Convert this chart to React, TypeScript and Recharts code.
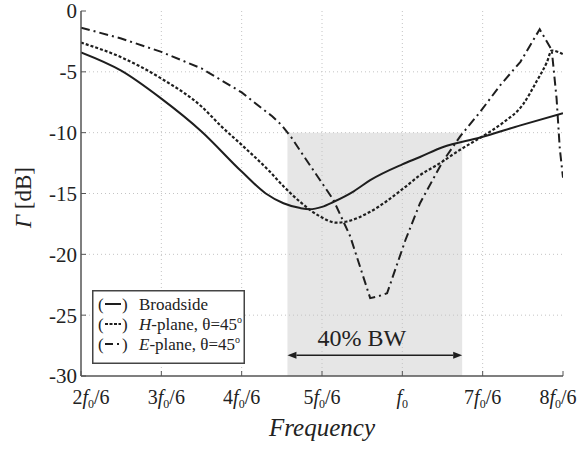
import React from 'react';
import { LineChart, Line, XAxis, YAxis, ReferenceArea, ReferenceLine, Legend } from 'recharts';

const FONT = '"Liberation Serif", "Times New Roman", Times, serif';
const INK = '#1e1e1e';
const FRAME = '#555555';

// x values in units of f0/6
const xTicks = [2, 3, 4, 5, 6, 7, 8];
const yTicks = [-30, -25, -20, -15, -10, -5, 0];
const gridX = [3, 4, 5, 6, 7];
const gridY = [-25, -20, -15, -10, -5];

const broadsideFreq = [2, 2.5, 3, 3.5, 4, 4.3, 4.52, 4.73, 4.85, 5, 5.14, 5.4, 5.6, 6, 6.22, 6.5, 6.97, 7.47, 8];
const broadsideGamma = [-3.4, -4.9, -7.2, -9.9, -13.2, -15.0, -15.8, -16.2, -16.3, -16.1, -15.7, -14.8, -13.9, -12.6, -12.0, -11.2, -10.4, -9.4, -8.4];

const hPlaneFreq = [2, 2.5, 3, 3.5, 3.75, 4.0, 4.35, 4.52, 4.73, 4.98, 5.18, 5.31, 5.6, 6.01, 6.22, 6.47, 6.72, 7.0, 7.25, 7.5, 7.67, 7.8, 7.86, 8];
const hPlaneGamma = [-2.6, -3.8, -5.55, -7.85, -9.5, -11.0, -13.2, -14.4, -15.7, -16.9, -17.4, -17.3, -16.5, -14.6, -13.5, -12.5, -11.4, -10.3, -9.2, -7.7, -5.8, -4.2, -3.25, -3.55];

const ePlaneFreq = [2, 2.5, 3, 3.5, 4, 4.25, 4.38, 4.5, 4.62, 4.77, 5.14, 5.35, 5.6, 5.7, 5.81, 6.04, 6.22, 6.5, 6.72, 6.97, 7.22, 7.47, 7.71, 7.86, 7.92, 7.96, 8];
const ePlaneGamma = [-1.37, -2.26, -3.36, -4.72, -6.69, -8.0, -8.65, -9.4, -10.4, -11.9, -15.5, -18.5, -23.6, -23.45, -23.2, -18.8, -15.8, -12.4, -10.3, -8.28, -6.09, -4.18, -1.5, -3.22, -7.18, -11.3, -13.7];

const bandStart = 4.57;
const bandEnd = 6.745;
const bandTop = -10;
const arrowLevel = -28.3;
const bandLabel = '40% BW';

// small horizontal nudges of the outer tick labels (as in the reference)
const xTickNudge: Record<number, number> = { 2: 10, 3: 5, 8: -5 };

const toRows = (f: number[], g: number[]) => f.map((v, i) => ({ freq: v, gamma: g[i] }));
const broadsideData = toRows(broadsideFreq, broadsideGamma);
const hPlaneData = toRows(hPlaneFreq, hPlaneGamma);
const ePlaneData = toRows(ePlaneFreq, ePlaneGamma);

const XTick = (props: any) => {
  const { x, y, payload } = props;
  const n = payload.value;
  const nx = x + (xTickNudge[n] || 0);
  return (
    <text x={nx} y={y + 23} textAnchor="middle" fontFamily={FONT} fontSize={20} fill="#222">
      {n === 6 ? (
        <>
          <tspan fontStyle="italic">f</tspan>
          <tspan fontSize={12} dy={4}>0</tspan>
        </>
      ) : (
        <>
          <tspan>{n}</tspan>
          <tspan fontStyle="italic">f</tspan>
          <tspan fontSize={12} dy={4}>0</tspan>
          <tspan dy={-4}>/6</tspan>
        </>
      )}
    </text>
  );
};

const XTitle = (props: any) => {
  const vb = props.viewBox || { x: 81, y: 376, width: 482, height: 75 };
  return (
    <text x={vb.x + vb.width / 2} y={vb.y + 60} textAnchor="middle" fontFamily={FONT} fontSize={25} fontStyle="italic" fill="#222">
      Frequency
    </text>
  );
};

const YTitle = (props: any) => {
  const vb = props.viewBox || { x: 0, y: 11, width: 81, height: 365 };
  const cx = vb.x + 31;
  const cy = vb.y + vb.height / 2 + 4;
  return (
    <text x={cx} y={cy} transform={`rotate(-90 ${cx} ${cy})`} textAnchor="middle" fontFamily={FONT} fontSize={23} fill="#222">
      <tspan fontStyle="italic">Γ</tspan>
      <tspan> [dB]</tspan>
    </text>
  );
};

const ArrowShape = (p: any) => {
  const { x1, y1, x2, y2 } = p;
  const h = 9;
  const w = 3.5;
  return (
    <g>
      <line x1={x1 + h} y1={y1} x2={x2 - h} y2={y2} stroke={INK} strokeWidth={1.6} />
      <polygon points={`${x1},${y1} ${x1 + h},${y1 - w} ${x1 + h},${y1 + w}`} fill={INK} />
      <polygon points={`${x2},${y2} ${x2 - h},${y2 - w} ${x2 - h},${y2 + w}`} fill={INK} />
      <text x={(x1 + x2) / 2 - 13} y={y1 - 9.5} textAnchor="middle" fontFamily={FONT} fontSize={24} fill="#222">
        {bandLabel}
      </text>
    </g>
  );
};

const LegendBox = () => {
  const rowY = [20, 40, 60];
  const txt = { fontFamily: FONT, fontSize: 17, fill: '#222' } as any;
  return (
    <svg width={153} height={74} style={{ display: 'block' }}>
      <rect x={0.75} y={0.75} width={151.5} height={72.5} fill="#fff" stroke="#444" strokeWidth={1.5} />
      {rowY.map((yy, i) => (
        <g key={i}>
          <text x={6} y={yy} {...txt}>(</text>
          <text x={30} y={yy} {...txt}>)</text>
          {i === 0 && <line x1={13} x2={29} y1={yy - 6} y2={yy - 6} stroke={INK} strokeWidth={2} />}
          {i === 1 && <line x1={13} x2={29} y1={yy - 6} y2={yy - 6} stroke={INK} strokeWidth={2} strokeDasharray="3 1.5" />}
          {i === 2 && (
            <>
              <line x1={13} x2={21} y1={yy - 6} y2={yy - 6} stroke={INK} strokeWidth={2} />
              <line x1={25} x2={27} y1={yy - 6} y2={yy - 6} stroke={INK} strokeWidth={2} />
            </>
          )}
        </g>
      ))}
      <text x={47} y={rowY[0]} {...txt}>Broadside</text>
      <text x={47} y={rowY[1]} {...txt}>
        <tspan fontStyle="italic">H</tspan>-plane, θ=45<tspan fontSize={10} dy={-7}>o</tspan>
      </text>
      <text x={47} y={rowY[2]} {...txt}>
        <tspan fontStyle="italic">E</tspan>-plane, θ=45<tspan fontSize={10} dy={-7}>o</tspan>
      </text>
    </svg>
  );
};

export default function App() {
  return (
    <div style={{ position: 'absolute', left: 0, top: 0, background: '#fff' }}>
      <LineChart width={579} height={451} margin={{ top: 11, right: 16, bottom: 0, left: 0 }}>
        <XAxis
          dataKey="freq"
          type="number"
          domain={[2, 8]}
          ticks={xTicks}
          interval={0}
          allowDataOverflow
          height={75}
          stroke={FRAME}
          axisLine={{ stroke: FRAME, strokeWidth: 1.5 }}
          tickLine={{ stroke: FRAME }}
          tickSize={-5}
          tickMargin={10}
          tick={<XTick />}
          label={{ content: <XTitle /> } as any}
        />
        <XAxis
          xAxisId="top"
          orientation="top"
          dataKey="freq"
          type="number"
          domain={[2, 8]}
          ticks={xTicks}
          interval={0}
          allowDataOverflow
          height={0}
          axisLine={{ stroke: FRAME, strokeWidth: 1.5 }}
          tickLine={{ stroke: FRAME }}
          tickSize={-5}
          tick={false}
        />
        <YAxis
          type="number"
          domain={[-30, 0]}
          ticks={yTicks}
          interval={0}
          allowDataOverflow
          width={81}
          axisLine={{ stroke: FRAME, strokeWidth: 1.5 }}
          tickLine={{ stroke: FRAME }}
          tickSize={-5}
          tickMargin={9}
          tick={{ fontFamily: FONT, fontSize: 21, fill: '#222' }}
          label={{ content: <YTitle /> } as any}
        />
        <YAxis
          yAxisId="right"
          orientation="right"
          type="number"
          domain={[-30, 0]}
          ticks={yTicks}
          interval={0}
          allowDataOverflow
          width={0}
          axisLine={{ stroke: FRAME, strokeWidth: 1.5 }}
          tickLine={{ stroke: FRAME }}
          tickSize={-5}
          tick={false}
        />
        <ReferenceArea x1={bandStart} x2={bandEnd} y1={-30} y2={bandTop} fill="#e6e6e6" fillOpacity={1} stroke="none" />
        {gridX.map((g) => (
          <ReferenceLine key={'gx' + g} x={g} stroke="#c4c4c4" strokeDasharray="1 3" strokeWidth={1} />
        ))}
        {gridY.map((g) => (
          <ReferenceLine key={'gy' + g} y={g} stroke="#c4c4c4" strokeDasharray="1 3" strokeWidth={1} />
        ))}
        <ReferenceLine
          segment={[
            { x: bandStart, y: arrowLevel },
            { x: bandEnd, y: arrowLevel },
          ]}
          shape={ArrowShape as any}
        />
        <Line data={broadsideData} dataKey="gamma" name="Broadside" type="monotone" stroke={INK} strokeWidth={2} dot={false} activeDot={false} isAnimationActive={false} />
        <Line data={hPlaneData} dataKey="gamma" name="H-plane" type="monotone" stroke={INK} strokeWidth={2.2} strokeDasharray="3 2" dot={false} activeDot={false} isAnimationActive={false} />
        <Line data={ePlaneData} dataKey="gamma" name="E-plane" type="linear" stroke={INK} strokeWidth={2} strokeDasharray="9 4 2 4" dot={false} activeDot={false} isAnimationActive={false} />
        <Legend
          layout="vertical"
          align="center"
          verticalAlign="middle"
          content={<LegendBox />}
          wrapperStyle={{ left: 92, top: 290, width: 153, height: 74 }}
        />
      </LineChart>
    </div>
  );
}
